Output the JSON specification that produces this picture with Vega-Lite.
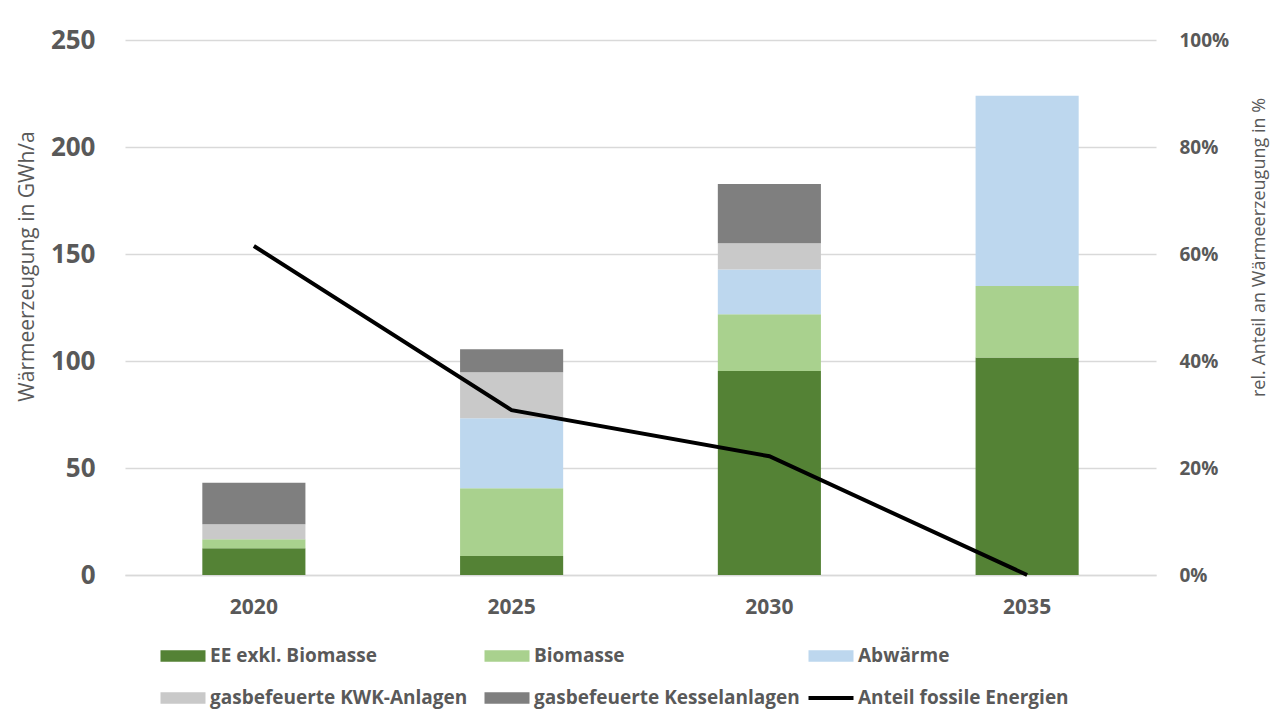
{
  "$schema": "https://vega.github.io/schema/vega-lite/v6.json",
  "autosize": {"type": "none"},
  "width": 1031,
  "height": 535,
  "padding": {"left": 125, "top": 40, "right": 129, "bottom": 152},
  "background": "white",
  "config": {
    "view": {"stroke": null},
    "font": "Open Sans",
    "axis": {"labelColor": "#595959", "titleColor": "#595959", "labelFont": "Open Sans", "titleFont": "Open Sans"}
  },
  "datasets": {
    "bars": [
      {"Jahr": "2020", "Kategorie": "EE exkl. Biomasse", "Wert": 12.5, "ord": 1},
      {"Jahr": "2020", "Kategorie": "Biomasse", "Wert": 4.2, "ord": 2},
      {"Jahr": "2020", "Kategorie": "Abwärme", "Wert": 0, "ord": 3},
      {"Jahr": "2020", "Kategorie": "gasbefeuerte KWK-Anlagen", "Wert": 7.0, "ord": 4},
      {"Jahr": "2020", "Kategorie": "gasbefeuerte Kesselanlagen", "Wert": 19.4, "ord": 5},
      {"Jahr": "2025", "Kategorie": "EE exkl. Biomasse", "Wert": 8.9, "ord": 1},
      {"Jahr": "2025", "Kategorie": "Biomasse", "Wert": 31.6, "ord": 2},
      {"Jahr": "2025", "Kategorie": "Abwärme", "Wert": 32.7, "ord": 3},
      {"Jahr": "2025", "Kategorie": "gasbefeuerte KWK-Anlagen", "Wert": 21.5, "ord": 4},
      {"Jahr": "2025", "Kategorie": "gasbefeuerte Kesselanlagen", "Wert": 10.8, "ord": 5},
      {"Jahr": "2030", "Kategorie": "EE exkl. Biomasse", "Wert": 95.3, "ord": 1},
      {"Jahr": "2030", "Kategorie": "Biomasse", "Wert": 26.5, "ord": 2},
      {"Jahr": "2030", "Kategorie": "Abwärme", "Wert": 21.0, "ord": 3},
      {"Jahr": "2030", "Kategorie": "gasbefeuerte KWK-Anlagen", "Wert": 12.2, "ord": 4},
      {"Jahr": "2030", "Kategorie": "gasbefeuerte Kesselanlagen", "Wert": 27.7, "ord": 5},
      {"Jahr": "2035", "Kategorie": "EE exkl. Biomasse", "Wert": 101.6, "ord": 1},
      {"Jahr": "2035", "Kategorie": "Biomasse", "Wert": 33.4, "ord": 2},
      {"Jahr": "2035", "Kategorie": "Abwärme", "Wert": 89.0, "ord": 3},
      {"Jahr": "2035", "Kategorie": "gasbefeuerte KWK-Anlagen", "Wert": 0, "ord": 4},
      {"Jahr": "2035", "Kategorie": "gasbefeuerte Kesselanlagen", "Wert": 0, "ord": 5}
    ],
    "linie": [
      {"Jahr": "2020", "Anteil": 0.615},
      {"Jahr": "2025", "Anteil": 0.308},
      {"Jahr": "2030", "Anteil": 0.222},
      {"Jahr": "2035", "Anteil": 0.0}
    ]
  },
  "encoding": {
    "x": {
      "field": "Jahr", "type": "nominal",
      "scale": {"paddingInner": 0.6, "paddingOuter": 0.3},
      "axis": {
        "title": null, "labelAngle": 0, "ticks": false,
        "domainColor": "#d9d9d9", "domainWidth": 1.5,
        "labelFontSize": 21, "labelFontWeight": "bold", "labelPadding": 21
      }
    }
  },
  "layer": [
    {
      "data": {"name": "bars"},
      "mark": {"type": "bar"},
      "encoding": {
        "y": {
          "field": "Wert", "type": "quantitative", "stack": "zero",
          "scale": {"domain": [0, 250], "nice": false},
          "axis": {
            "title": "Wärmeerzeugung in GWh/a",
            "values": [0, 50, 100, 150, 200, 250],
            "grid": true, "gridColor": "#d9d9d9", "gridWidth": 1.5,
            "domain": false, "ticks": false,
            "labelFontSize": 26, "labelFontWeight": "bold", "labelPadding": 30,
            "titleFontSize": 21, "titleFontWeight": "normal",
            "titleAngle": 270, "titleX": -98, "titleY": 226,
            "titleAlign": "center", "titleBaseline": "middle"
          }
        },
        "color": {
          "field": "Kategorie", "type": "nominal",
          "scale": {
            "domain": ["EE exkl. Biomasse", "Biomasse", "Abwärme", "gasbefeuerte KWK-Anlagen", "gasbefeuerte Kesselanlagen", "Anteil fossile Energien"],
            "range": ["#548235", "#A9D18E", "#BDD7EE", "#C9C9C9", "#7F7F7F", "#000000"]
          },
          "legend": {
            "title": null, "orient": "none", "legendX": 43, "legendY": 601,
            "direction": "horizontal", "columns": 3, "columnPadding": 8, "rowPadding": 17,
            "gridAlign": "all",
            "symbolType": "M-1.5,-0.38H1.5V0.38H-1.5Z", "symbolSize": 900,
            "symbolStrokeWidth": 0,
            "labelOffset": 12, "labelFontSize": 19, "labelFontWeight": "bold",
            "labelColor": "#595959", "labelFont": "Open Sans", "labelLimit": 400,
            "encode": {
              "symbols": {
                "update": {
                  "shape": {"signal": "datum.value === 'Anteil fossile Energien' ? 'M-1.5,-0.13H1.5V0.13H-1.5Z' : 'M-1.5,-0.38H1.5V0.38H-1.5Z'"},
                  "fill": {"scale": "color", "field": "value"},
                  "strokeWidth": {"value": 0}
                }
              }
            }
          }
        },
        "order": {"field": "ord", "type": "quantitative"}
      }
    },
    {
      "data": {"name": "linie"},
      "mark": {"type": "line", "color": "#000000", "strokeWidth": 4},
      "encoding": {
        "y": {
          "field": "Anteil", "type": "quantitative",
          "scale": {"domain": [0, 1], "nice": false},
          "axis": {
            "title": "rel. Anteil an Wärmeerzeugung in %",
            "orient": "right", "format": ".0%",
            "values": [0, 0.2, 0.4, 0.6, 0.8, 1],
            "grid": false, "domain": false, "ticks": false,
            "labelFontSize": 19, "labelFontWeight": "bold", "labelPadding": 23,
            "labelAlign": "left",
            "titleFontSize": 18, "titleFontWeight": "normal",
            "titleAngle": 270, "titleX": 103, "titleY": 207,
            "titleAlign": "center", "titleBaseline": "middle"
          }
        },
        "color": {"datum": "Anteil fossile Energien"}
      }
    }
  ],
  "resolve": {"scale": {"y": "independent"}}
}
